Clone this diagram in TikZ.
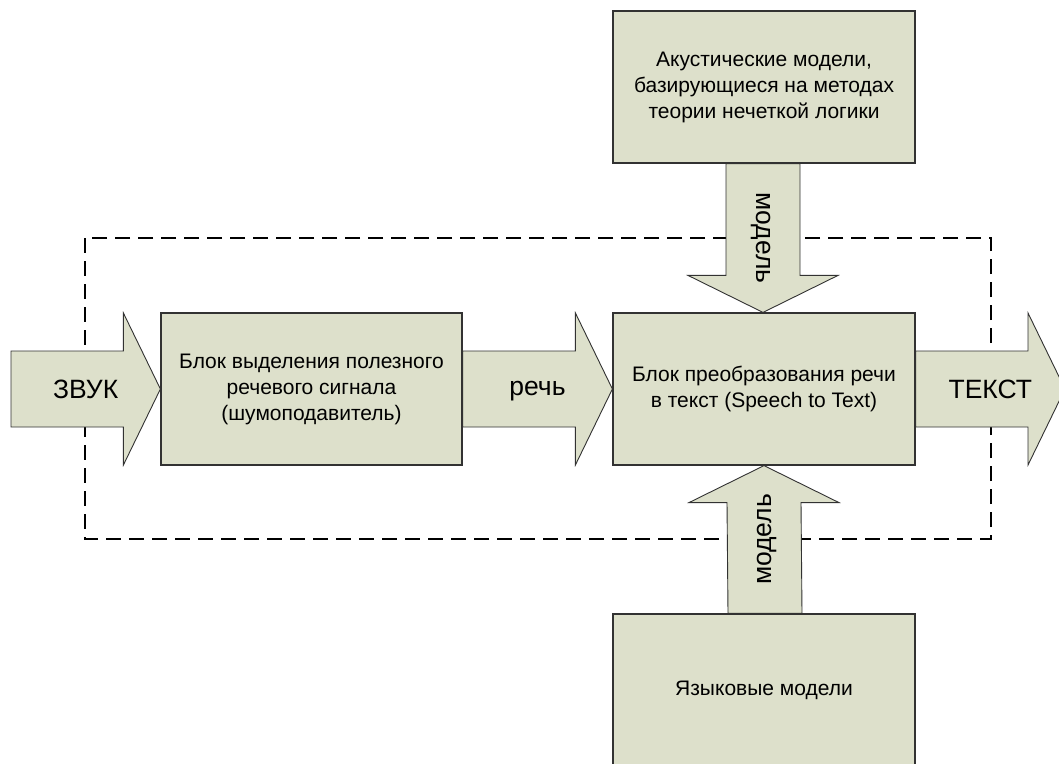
\documentclass[tikz,border=0pt]{standalone}
\usepackage{fontspec}
\setmainfont{Liberation Sans}
\usetikzlibrary{calc}
\definecolor{boxfill}{RGB}{221,224,203}
\definecolor{edge}{RGB}{50,50,50}
\tikzset{
  blockbox/.style={draw=edge, line width=1.2pt, fill=boxfill, minimum width=302pt, minimum height=152pt, align=center, inner sep=0pt, font=\fontsize{21}{26}\selectfont},
  arrowshape/.style={draw=edge, line width=0.9pt, fill=boxfill, line join=miter},
  arrowlabel/.style={font=\fontsize{26.5}{30}\selectfont, inner sep=0pt, text height=19pt, text depth=0pt},
  lowlabel/.style={font=\fontsize{26.5}{30}\selectfont, inner sep=0pt, text height=13.8pt, text depth=0pt},
  frame/.style={draw=black, line width=1.6pt, dash pattern=on 15pt off 8pt}
}
% horizontal arrow: #1 start, #2 tip
\newcommand\hArrow[2]{%
  \draw[arrowshape] ($(#1)+(0,-38)$) -- ($(#2)+(-37,-38)$) -- ($(#2)+(-37,-76)$) -- (#2)
    -- ($(#2)+(-37,76)$) -- ($(#2)+(-37,38)$) -- ($(#1)+(0,38)$) -- cycle;}
% vertical arrow pointing down (#3=1) or up (#3=-1)
\newcommand\vArrow[3]{%
  \draw[arrowshape] ($(#1)+(-37,0)$) -- ($(#2)+(-37,-37*#3)$) -- ($(#2)+(-75,-37*#3)$) -- (#2)
    -- ($(#2)+(75,-37*#3)$) -- ($(#2)+(37,-37*#3)$) -- ($(#1)+(37,0)$) -- cycle;}
\begin{document}
\begin{tikzpicture}[x=1pt,y=-1pt]
\useasboundingbox (0,0) rectangle (1059,763);
\clip (0,0) rectangle (1059,763);
\fill[white] (0,0) rectangle (1059,763);

% dashed frame
\draw[frame] (85,238) rectangle (991,539);

% blocks
\node[blockbox] (ac) at (764,87) {Акустические модели,\\базирующиеся на методах\\теории нечеткой логики};
\node[blockbox, minimum width=301pt] (b1) at (311.5,389) {Блок выделения полезного\\речевого сигнала\\(шумоподавитель)};
\node[blockbox] (stt) at (764,389) {Блок преобразования речи\\в текст (Speech to Text)};
\node[blockbox] (lm) at (764,690) {Языковые модели};

\coordinate (in) at (11,389);
\coordinate (out) at (1065,389);
\coordinate (acs) at ($(ac.south)+(-1,0)$);
\coordinate (sttn) at ($(stt.north)+(-1,0)$);
\coordinate (stts) at ($(stt.south)+(0,0)$);
\coordinate (lmn) at ($(lm.north)+(1,0)$);

% arrows
\hArrow{in}{b1.west}
\hArrow{b1.east}{stt.west}
\hArrow{stt.east}{out}
\vArrow{acs}{sttn}{1}
\vArrow{lmn}{stts}{-1}

% redraw blocks on top of arrows
\node[blockbox] at (ac) {Акустические модели,\\базирующиеся на методах\\теории нечеткой логики};
\node[blockbox, minimum width=301pt] at (b1) {Блок выделения полезного\\речевого сигнала\\(шумоподавитель)};
\node[blockbox] at (stt) {Блок преобразования речи\\в текст (Speech to Text)};
\node[blockbox] at (lm) {Языковые модели};

% arrow labels
\node[arrowlabel] (l1) at ($(in)!0.5!(b1.west)$) {ЗВУК};
\node[lowlabel] (l2) at ($(b1.east)!0.5!(stt.west)$) {речь};
\node[arrowlabel] (l3) at ($(stt.east)!0.5!(out)$) {ТЕКСТ};
\node[lowlabel, rotate=-90] (l4) at ($(acs)!0.5!(sttn)$) {модель};
\node[lowlabel, rotate=90] (l5) at ($(lmn)!0.5!(stts)$) {модель};
\end{tikzpicture}
\end{document}
